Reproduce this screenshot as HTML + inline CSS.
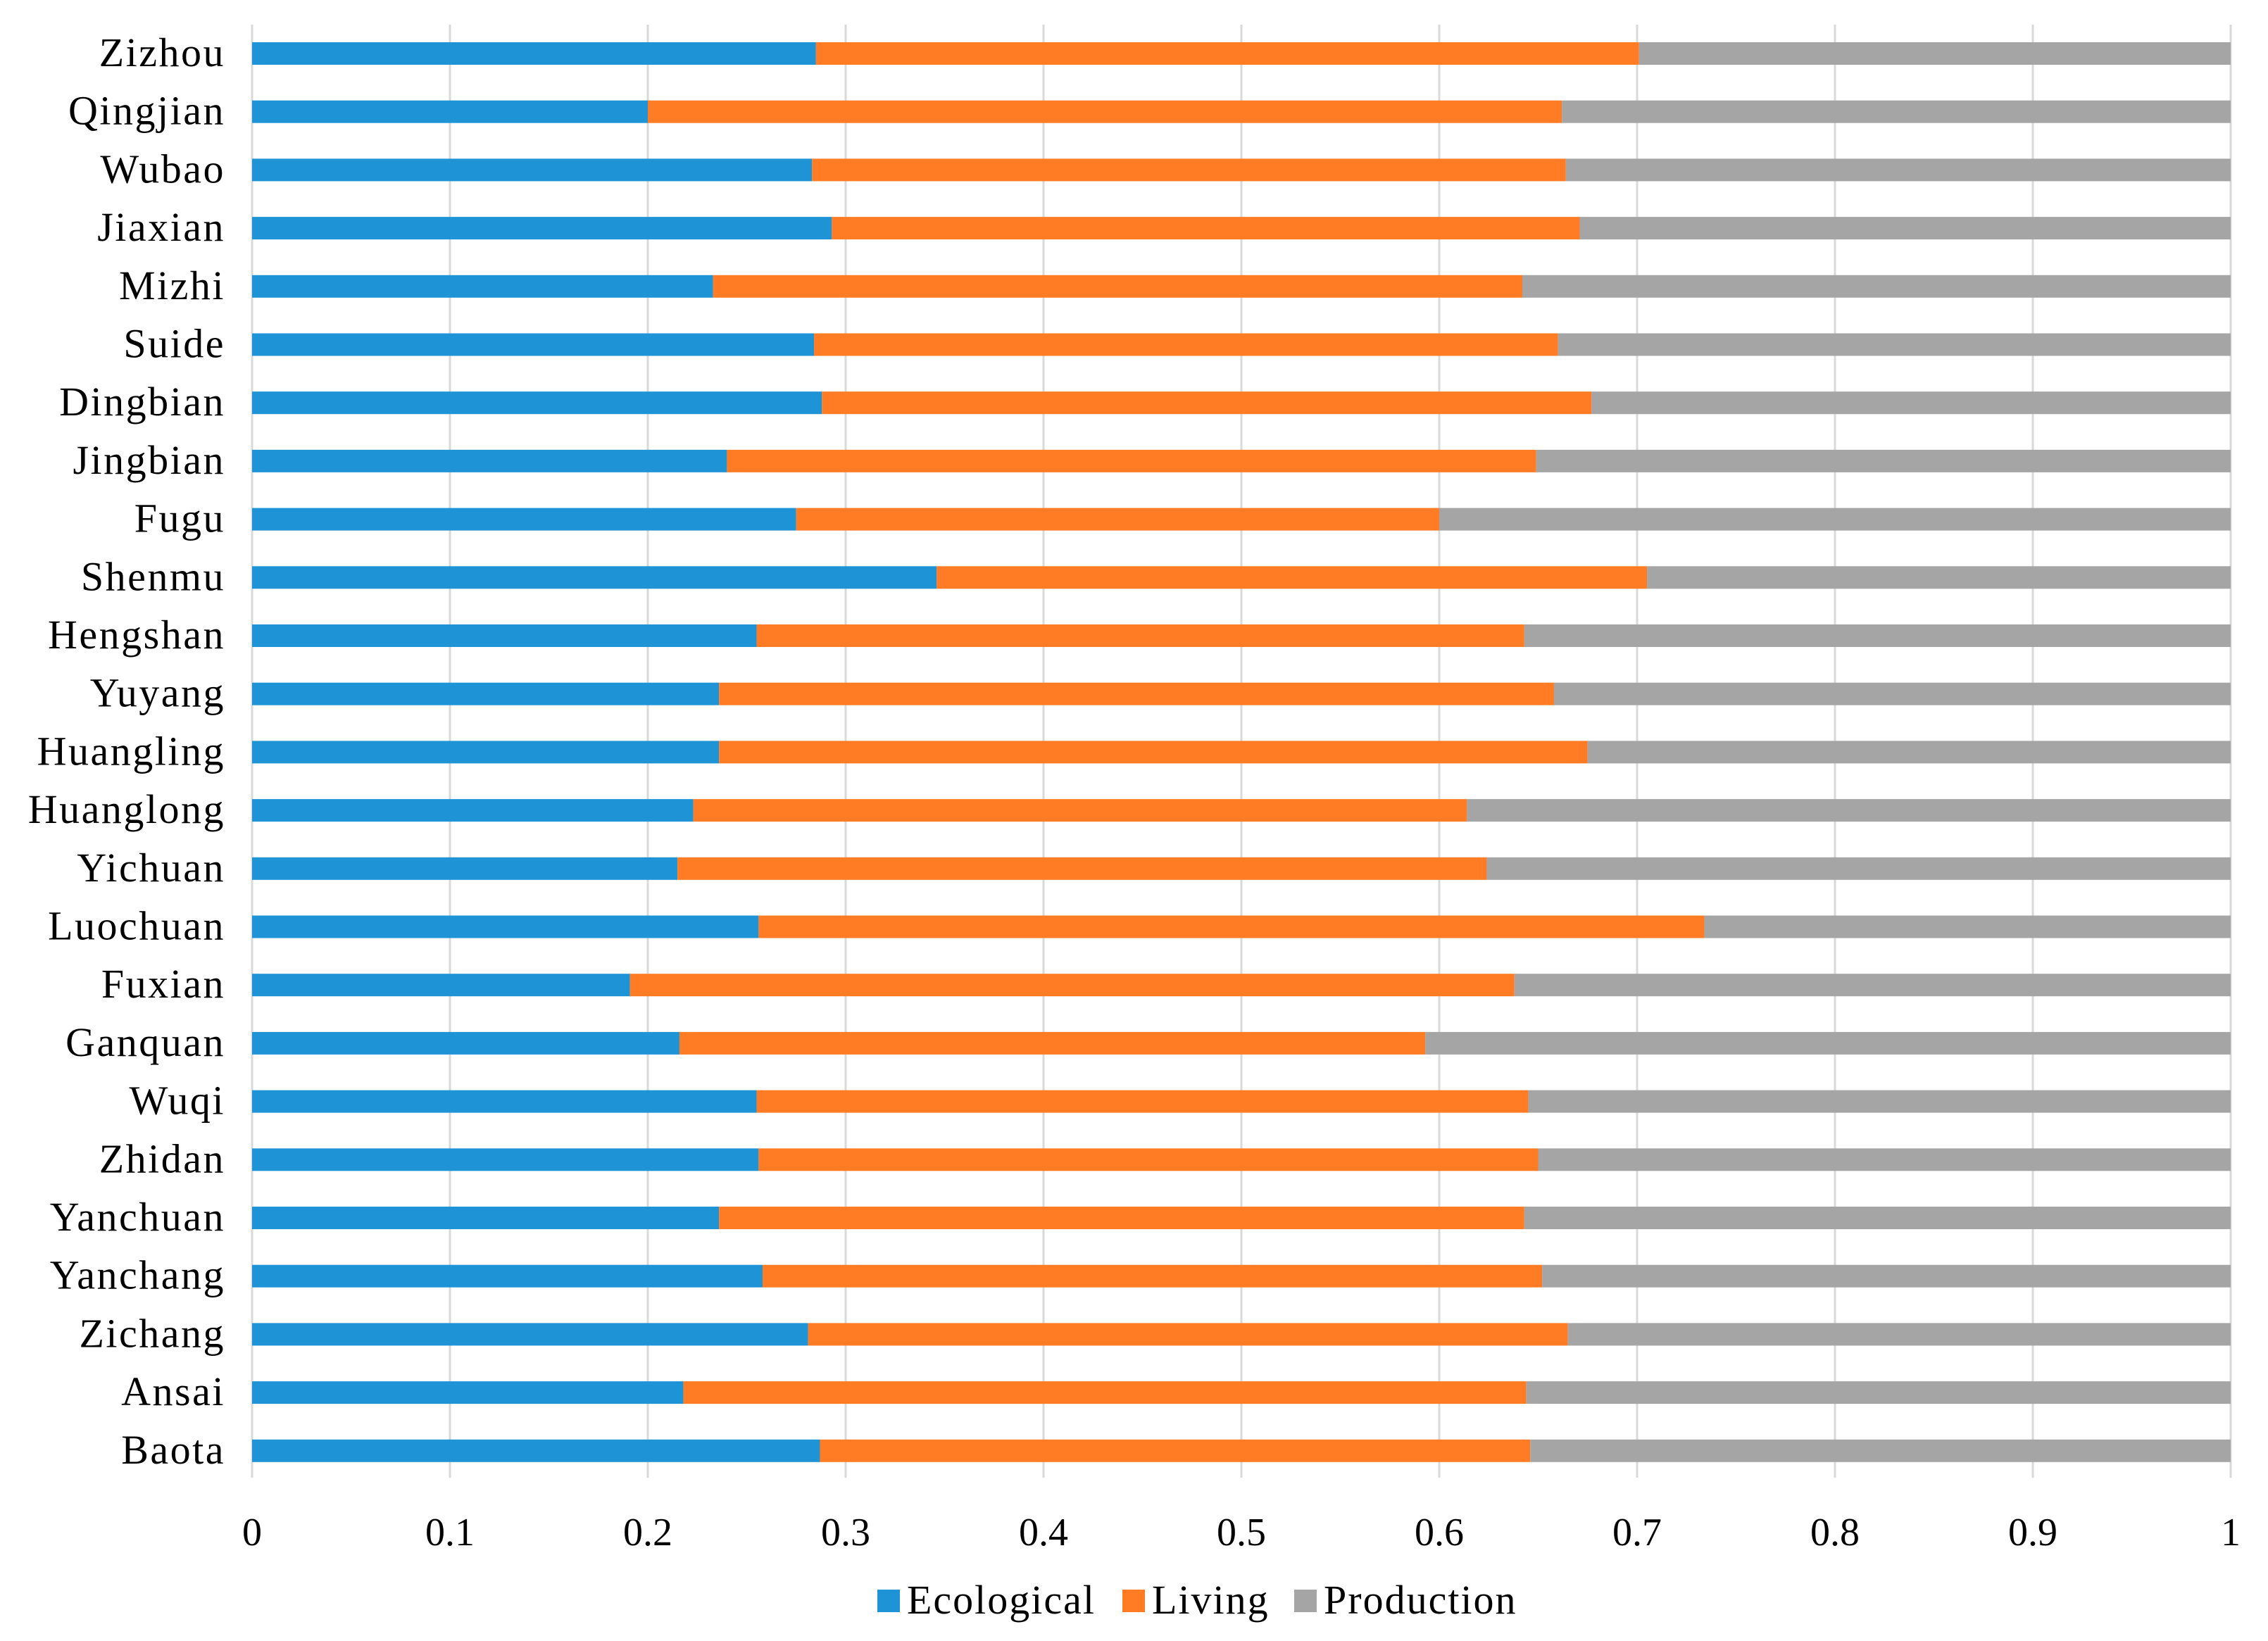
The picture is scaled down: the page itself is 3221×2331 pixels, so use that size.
<!DOCTYPE html>
<html><head><meta charset="utf-8"><style>
body{margin:0;background:#fff}
svg text{font-family:"Liberation Serif",serif;fill:#000}
</style></head><body>
<svg id="chart" width="3221" height="2326" viewBox="0 0 3221 2326" xmlns="http://www.w3.org/2000/svg">
<g id="grid"></g>
<g id="bars"></g>
<g id="ylabels"></g>
<g id="xlabels"></g>
<g id="legend"></g>
</svg>
<script>
const categories=["Zizhou","Qingjian","Wubao","Jiaxian","Mizhi","Suide","Dingbian","Jingbian","Fugu","Shenmu","Hengshan","Yuyang","Huangling","Huanglong","Yichuan","Luochuan","Fuxian","Ganquan","Wuqi","Zhidan","Yanchuan","Yanchang","Zichang","Ansai","Baota"];
const ecological=[0.285,0.2,0.283,0.293,0.233,0.284,0.288,0.24,0.275,0.346,0.255,0.236,0.236,0.223,0.215,0.256,0.191,0.216,0.255,0.256,0.236,0.258,0.281,0.218,0.287];
const living=[0.416,0.462,0.381,0.378,0.409,0.376,0.389,0.409,0.325,0.359,0.388,0.422,0.439,0.391,0.409,0.478,0.447,0.377,0.39,0.394,0.407,0.394,0.384,0.426,0.359];
const production=[0.299,0.338,0.336,0.329,0.358,0.34,0.323,0.351,0.4,0.295,0.357,0.342,0.325,0.386,0.376,0.266,0.362,0.407,0.355,0.35,0.357,0.348,0.335,0.356,0.354];
const xTicks=["0","0.1","0.2","0.3","0.4","0.5","0.6","0.7","0.8","0.9","1"];
const seriesNames=["Ecological","Living","Production"];
const colors=["#1e93d6","#ff7c25","#a5a5a5"];
const NS="http://www.w3.org/2000/svg";
const X0=358,X1=3168,Y0=76,STEP=82.7,BH=32,TOP=35,BOT=2099;
function xs(v){return X0+v*(X1-X0);}
function ys(i){return Y0+i*STEP;}
function mk(tag,attrs,parent){const e=document.createElementNS(NS,tag);for(const k in attrs)e.setAttribute(k,attrs[k]);parent.appendChild(e);return e;}
const grid=document.getElementById('grid');
xTicks.forEach((t,i)=>{const v=parseFloat(t);
 const l=mk('line',{x1:xs(v),x2:xs(v),y1:TOP,y2:BOT,stroke:'#d9d9d9','stroke-width':3},grid);
 
 
 const tx=mk('text',{x:xs(v),y:2195,'font-size':56,'text-anchor':'middle'},document.getElementById('xlabels'));
 tx.textContent=t;
 
 
});
const bars=document.getElementById('bars');
const series=[ecological,living,production];
categories.forEach((c,i)=>{
 let acc=0;const y=ys(i)-BH/2;
 series.forEach((s,k)=>{
  const r=mk('rect',{x:xs(acc),y:y,width:xs(acc+s[i])-xs(acc),height:BH,fill:colors[k]},bars);
  
  
  acc+=s[i];
 });
 const t=mk('text',{x:320,y:ys(i)+18,'font-size':58,'text-anchor':'end','letter-spacing':2.5},document.getElementById('ylabels'));
 t.textContent=c;
 
 
});
const lg=document.getElementById('legend');
const lx=[1246,1594,1838];
seriesNames.forEach((n,k)=>{
 const sq=mk('rect',{x:lx[k],y:2258,width:32,height:32,fill:colors[k]},lg);
 
 
 const t=mk('text',{x:lx[k]+42,y:2292,'font-size':58,'letter-spacing':2},lg);
 t.textContent=n;
 
 
});
</script>
</body></html>
